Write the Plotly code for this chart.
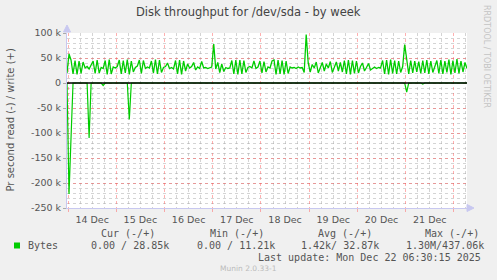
import plotly.graph_objects as go
import pandas as pd

# ---------------- data ----------------
start_time = "2025-12-13 23:30"
end_time = "2025-12-22 06:30"

# write bytes per second (thousands), hourly samples
write_k = [
    20, 58, 46, 18, 45, 17, 44, 19, 42, 30, 33, 28, 36, 44, 19, 46, 20, 31, 29, 45,
    17, 47, 18, 32, 30, 33, 46, 18, 45, 20, 47, 17, 44, 22, 31, 34, 46, 19, 45, 29,
    32, 30, 44, 20, 47, 18, 46, 21, 31, 33, 40, 29, 31, 28, 45, 18, 46, 17, 44, 24,
    38, 30, 33, 41, 26, 32, 29, 43, 30, 31, 29, 30, 32, 78, 28, 41, 21, 38, 23, 31,
    29, 30, 45, 18, 46, 17, 46, 18, 45, 21, 31, 33, 30, 44, 29, 32, 44, 20, 43, 22,
    32, 30, 44, 46, 17, 46, 18, 45, 17, 44, 19, 32, 30, 31, 29, 32, 30, 31, 21, 97,
    40, 22, 37, 30, 42, 20, 33, 41, 24, 38, 30, 43, 21, 32, 42, 24, 41, 22, 45, 18,
    46, 17, 45, 19, 44, 20, 33, 40, 24, 31, 39, 26, 30, 32, 29, 31, 30, 45, 18, 46,
    17, 47, 19, 45, 18, 44, 21, 33, 77, 46, 18, 45, 20, 44, 22, 43, 19, 45, 20, 46,
    18, 44, 21, 33, 45, 19, 46, 18, 44, 21, 47, 17, 45, 20, 48, 19, 44, 22, 41, 29,
]

# read bytes per second (thousands), hourly samples (plotted negative)
read_k = [
    0, 222, 110, 0, 0, 0, 0, 0, 0, 0, 0, 110, 0, 0, 0, 0, 0, 0, 5, 0,
    0, 0, 0, 0, 0, 0, 0, 0, 0, 0, 0, 73, 0, 0, 0, 0, 0, 0, 0, 0,
    0, 0, 0, 0, 0, 0, 0, 0, 0, 0, 0, 0, 0, 0, 0, 0, 0, 0, 0, 0,
    0, 0, 0, 0, 0, 0, 0, 0, 0, 0, 0, 0, 0, 0, 0, 0, 0, 0, 0, 0,
    0, 0, 0, 0, 0, 0, 0, 0, 0, 0, 0, 0, 0, 0, 0, 0, 0, 0, 0, 0,
    0, 0, 0, 0, 0, 0, 0, 0, 0, 0, 0, 0, 0, 0, 0, 0, 0, 0, 0, 0,
    0, 0, 0, 0, 0, 0, 0, 0, 0, 0, 0, 0, 0, 0, 0, 0, 0, 0, 0, 0,
    0, 0, 0, 0, 0, 0, 0, 0, 0, 0, 0, 0, 0, 0, 0, 0, 0, 0, 0, 0,
    0, 0, 0, 0, 0, 0, 0, 0, 0, 18, 0, 0, 0, 0, 0, 0, 0, 2, 0, 0,
    0, 0, 0, 0, 0, 0, 0, 0, 0, 0, 0, 0, 0, 0, 0, 0, 0, 0, 0, 0,
]

y_tick_vals = [-250000, -200000, -150000, -100000, -50000, 0, 50000, 100000]
y_tick_text = ["-250 k", "-200 k", "-150 k", "-100 k", "-50 k", "0", "50 k", "100 k"]

legend_headers = ["Cur (-/+)", "Min (-/+)", "Avg (-/+)", "Max (-/+)"]
legend_values = ["0.00 / 28.85k", "0.00 / 11.21k", "1.42k/ 32.87k", "1.30M/437.06k"]
series_name = "Bytes"
last_update = "Last update: Mon Dec 22 06:30:15 2025"
title_text = "Disk throughput for /dev/sda - by week"
y_title = "Pr second read (-) / write (+)"

# ---------------- layout geometry ----------------
W, H = 497, 280
L, R, T, B = 67, 30, 33, 72
PW, PH = W - L - R, H - T - B

def px(x):
    return (x - L) / PW

def py(y):
    return (H - B - y) / PH

GREEN = "#00CC00"
BG = "#F0F0F0"
MAJOR = "rgba(255,80,80,0.45)"
MINOR = "rgba(170,170,170,0.5)"
AXIS = "#C8C8F0"
TXT = "#555555"

times = pd.date_range(start_time, periods=len(write_k), freq="h")

fig = go.Figure()
fig.add_trace(go.Scatter(
    x=times, y=[-v * 1000 for v in read_k], mode="lines",
    line=dict(color=GREEN, width=1.2), showlegend=False, hoverinfo="skip"))
fig.add_trace(go.Scatter(
    x=times, y=[v * 1000 for v in write_k], mode="lines",
    line=dict(color=GREEN, width=1.3), showlegend=False, hoverinfo="skip"))

fig.update_layout(
    width=W, height=H, autosize=False,
    margin=dict(l=L, r=R, t=T, b=B, pad=0),
    paper_bgcolor=BG, plot_bgcolor="white",
    font=dict(family="DejaVu Sans", size=10, color=TXT),
    showlegend=False,
)

fig.update_xaxes(
    type="date", range=[start_time, end_time],
    tick0="2025-12-14 00:00", dtick=86400000,
    ticklabelmode="period", tickformat="%d %b",
    showgrid=True, gridcolor=MAJOR, griddash="dot", gridwidth=1,
    ticks="outside", ticklen=3, tickcolor=MAJOR,
    tickfont=dict(family="DejaVu Sans", size=9.5, color=TXT),
    minor=dict(dtick=6 * 3600000, tick0="2025-12-14 00:00", showgrid=True,
               gridcolor=MINOR, griddash="dot", gridwidth=1, ticks=""),
    showline=True, linecolor=AXIS, linewidth=1, mirror=False,
    zeroline=False, fixedrange=True,
)

fig.update_yaxes(
    range=[-250000, 100000],
    tickvals=y_tick_vals, ticktext=y_tick_text,
    showgrid=True, gridcolor=MAJOR, griddash="dot", gridwidth=1,
    ticks="outside", ticklen=3, tickcolor="#AAAAAA",
    tickfont=dict(family="DejaVu Sans", size=9.5, color=TXT),
    minor=dict(dtick=10000, tick0=0, showgrid=True,
               gridcolor=MINOR, griddash="dot", gridwidth=1, ticks=""),
    showline=True, linecolor=AXIS, linewidth=1,
    zeroline=False, fixedrange=True,
)

# zero rule
fig.add_shape(type="line", xref="paper", yref="y", x0=0, x1=1, y0=0, y1=0,
              line=dict(color="black", width=1.5), layer="above")
# axis arrows
fig.add_shape(type="path", xref="paper", yref="paper",
              path=f"M {px(63.5)} {py(32)} L {px(67)} {py(25)} L {px(70.5)} {py(32)} Z",
              fillcolor=AXIS, line=dict(color=AXIS, width=1))
fig.add_shape(type="path", xref="paper", yref="paper",
              path=f"M {px(467)} {py(204.5)} L {px(474)} {py(208)} L {px(467)} {py(211.5)} Z",
              fillcolor=AXIS, line=dict(color=AXIS, width=1))

ann = []
ann.append(dict(text=title_text, x=px(248.5), y=py(12), xref="paper", yref="paper",
                xanchor="center", yanchor="middle", showarrow=False,
                font=dict(family="DejaVu Sans", size=11.5, color="#444444")))
ann.append(dict(text=y_title, x=px(10), y=py(120.5), xref="paper", yref="paper",
                xanchor="center", yanchor="middle", textangle=-90, showarrow=False,
                font=dict(family="DejaVu Sans", size=10, color=TXT)))
ann.append(dict(text="RRDTOOL / TOBI OETIKER", x=px(487), y=py(56), xref="paper", yref="paper",
                xanchor="center", yanchor="middle", textangle=90, showarrow=False,
                font=dict(family="DejaVu Sans", size=8, color="#C4C4C4")))

header_left = [99, 208, 316, 423]
value_left = [89, 195, 299, 404]
MONO = "DejaVu Sans Mono"
for h, xl in zip(legend_headers, header_left):
    ann.append(dict(text=h, x=px(xl), y=py(233), xref="paper", yref="paper",
                    xanchor="left", yanchor="middle", showarrow=False,
                    font=dict(family=MONO, size=10, color=TXT)))
for v, xl in zip(legend_values, value_left):
    ann.append(dict(text=v, x=px(xl), y=py(245.5), xref="paper", yref="paper",
                    xanchor="left", yanchor="middle", showarrow=False,
                    font=dict(family=MONO, size=10, color=TXT)))
ann.append(dict(text=series_name, x=px(26), y=py(245.5), xref="paper", yref="paper",
                xanchor="left", yanchor="middle", showarrow=False,
                font=dict(family=MONO, size=10, color=TXT)))
ann.append(dict(text=last_update, x=px(483), y=py(257.5), xref="paper", yref="paper",
                xanchor="right", yanchor="middle", showarrow=False,
                font=dict(family=MONO, size=10, color=TXT)))
ann.append(dict(text="Munin 2.0.33-1", x=px(248), y=py(268.5), xref="paper", yref="paper",
                xanchor="center", yanchor="middle", showarrow=False,
                font=dict(family="DejaVu Sans", size=7.5, color="#BBBBBB")))
fig.update_layout(annotations=ann)

# legend colour swatch
fig.add_shape(type="rect", xref="paper", yref="paper",
              x0=px(14), x1=px(20), y0=py(248.5), y1=py(242.5),
              fillcolor=GREEN, line=dict(width=0))

fig.write_html("out.html")
